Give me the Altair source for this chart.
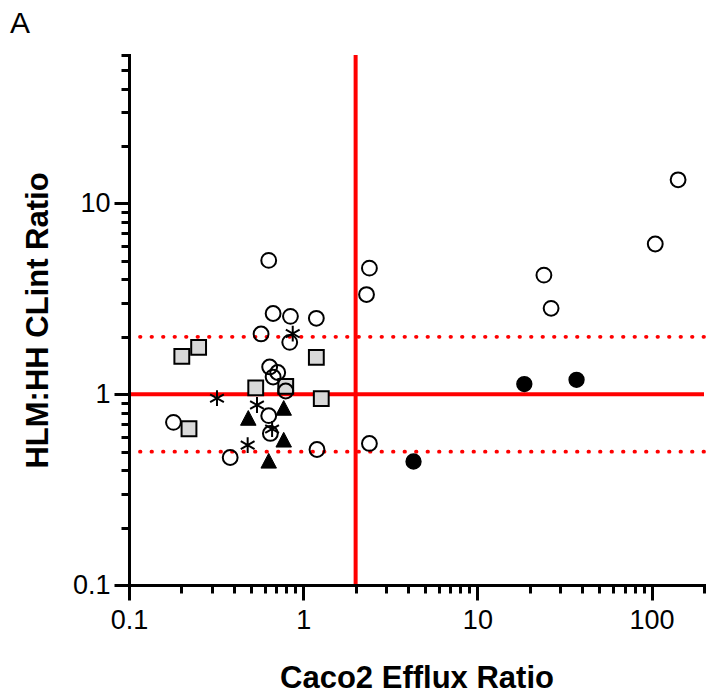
import altair as alt
import pandas as pd

# ---------------- data ----------------
open_x = [0.634, 0.672, 0.845, 1.19, 0.573, 0.837, 0.642, 0.714, 0.672, 0.794,
          0.634, 0.648, 0.180, 0.381, 1.20, 2.40, 2.31, 2.40, 24.1, 26.5, 105, 142]
open_y = [5.03, 2.65, 2.56, 2.50, 2.07, 1.87, 1.39, 1.30, 1.23, 1.04,
          0.772, 0.623, 0.712, 0.466, 0.513, 4.58, 3.33, 0.552, 4.21, 2.82, 6.13, 13.3]

square_x = [0.201, 0.251, 0.534, 0.794, 1.19, 1.27, 0.221]
square_y = [1.58, 1.76, 1.08, 1.10, 1.56, 0.948, 0.659]

star_x = [0.320, 0.543, 0.871, 0.663, 0.480]
star_y = [0.953, 0.878, 2.08, 0.657, 0.541]

tri_x = [0.484, 0.773, 0.773, 0.634]
tri_y = [0.748, 0.844, 0.575, 0.446]

filled_x = [4.30, 18.6, 37.1]
filled_y = [0.444, 1.13, 1.19]

solid_h = [1]
dotted_h = [0.5, 2]
solid_v = [2]

x_major = [0.1, 1, 10, 100]
x_minor = [0.2, 0.3, 0.4, 0.5, 0.6, 0.7, 0.8, 0.9, 2, 3, 4, 5, 6, 7, 8, 9,
           20, 30, 40, 50, 60, 70, 80, 90, 200]
y_major = [0.1, 1, 10]
y_minor = [0.2, 0.3, 0.4, 0.5, 0.6, 0.7, 0.8, 0.9, 2, 3, 4, 5, 6, 7, 8, 9,
           20, 30, 40, 50, 60]

x_title = "Caco2 Efflux Ratio"
y_title = "HLM:HH CLint Ratio"
panel_label = ["A"]

# ---------------- styling ----------------
FONT = "Liberation Sans"
W, H = 575, 530


def make_axis(title, majors, minors, is_x):
    arr = "[" + ",".join(str(v) for v in majors) + "]"
    test = f"indexof({arr}, datum.value) >= 0"
    common = dict(
        title=title,
        values=sorted(majors + minors),
        labelExpr=f"{test} ? format(datum.value, '~g') : ''",
        tickSize={"condition": {"test": test, "value": 15}, "value": 8},
        tickWidth=3,
        tickColor="black",
        domainColor="black",
        domainWidth=3,
        domainCap="square",
        labelFont=FONT,
        labelFontSize=27,
        labelColor="black",
        labelOverlap=False,
        labelFlush=False,
        labelBound=False,
        titleFont=FONT,
        titleFontSize=31,
        titleFontWeight="bold",
        titleColor="black",
        grid=False,
        zindex=1,
    )
    if is_x:
        common.update(labelPadding=7, titleY=102, titleBaseline="alphabetic",
                      titleX=W / 2, titleAlign="center")
    else:
        common.update(labelPadding=4, titleX=-91, titleY=H / 2, titleAngle=270,
                      titleBaseline="middle", titleAlign="center")
    return alt.Axis(**common)


xs = alt.Scale(type="log", domain=[0.1, 200], nice=False)
ys = alt.Scale(type="log", domain=[0.1, 60], nice=False)
xa = make_axis(x_title, x_major, x_minor, True)
ya = make_axis(y_title, y_major, y_minor, False)


def X():
    return alt.X("x:Q", scale=xs, axis=xa)


def Y():
    return alt.Y("y:Q", scale=ys, axis=ya)


def pts(xv, yv, **mark):
    df = pd.DataFrame({"x": xv, "y": yv})
    return alt.Chart(df).mark_point(opacity=1, **mark).encode(x=X(), y=Y())


dotted = alt.Chart(pd.DataFrame({"y": dotted_h})).mark_rule(
    color="red", strokeWidth=3.8, strokeDash=[0.5, 11], strokeCap="round"
).encode(y=Y())

hline = alt.Chart(pd.DataFrame({"y": solid_h})).mark_rule(
    color="red", strokeWidth=4
).encode(y=Y())

vline = alt.Chart(pd.DataFrame({"x": solid_v})).mark_rule(
    color="red", strokeWidth=4
).encode(x=X())

STAR = "M0,-1L0,1M-0.87,-0.5L0.87,0.5M-0.87,0.5L0.87,-0.5"
TRI = "M0,-1L1,0.9L-1,0.9Z"

squares = pts(square_x, square_y, shape="square", size=220, filled=True,
              fill="#d9d9d9", stroke="black", strokeWidth=2)
circles = pts(open_x, open_y, shape="circle", size=220, filled=False,
              stroke="black", strokeWidth=2)
tris = pts(tri_x, tri_y, shape=TRI, size=240, filled=True,
           fill="black", stroke="black", strokeWidth=1)
stars = pts(star_x, star_y, shape=STAR, size=250, filled=False,
            stroke="black", strokeWidth=2)
filled = pts(filled_x, filled_y, shape="circle", size=220, filled=True,
             fill="black", stroke="black", strokeWidth=1.5)

label = alt.Chart(pd.DataFrame({"t": panel_label})).mark_text(
    align="left", baseline="alphabetic", font=FONT, fontSize=30, color="black"
).encode(text="t:N", x=alt.value(-119), y=alt.value(-22))

chart = alt.layer(dotted, hline, vline, squares, circles, tris, stars, filled, label).properties(
    width=W,
    height=H,
    autosize=alt.AutoSizeParams(type="none"),
    padding={"left": 129, "top": 55, "right": 13, "bottom": 115},
).configure_view(stroke=None)

chart.save("out.html", embed_options={"renderer": "svg", "actions": False})
